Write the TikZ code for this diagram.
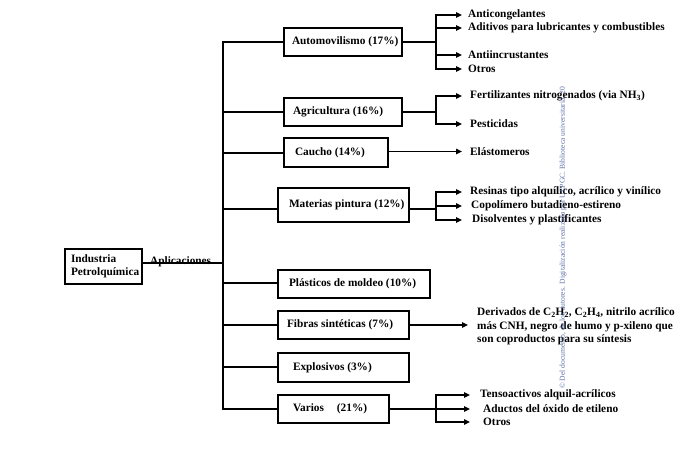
\documentclass[tikz,border=0pt]{standalone}
\usepackage{fontspec}
\setmainfont{Liberation Serif}
\usetikzlibrary{arrows.meta}
\definecolor{wmark}{RGB}{95,110,170}
\begin{document}
\begin{tikzpicture}[x=1pt,y=-1pt,
  every node/.style={font=\fontsize{11.3}{13.5}\selectfont\bfseries},
  box/.style={draw,line width=1.8pt,inner xsep=0pt,inner ysep=0pt,anchor=center},
  lbl/.style={anchor=west,inner ysep=0pt,inner xsep=0pt},
  ln/.style={line width=1.5pt},
  arr/.style={line width=1.5pt,-{Triangle[length=6pt,width=5.5pt]}}]
\useasboundingbox (0,0) rectangle (690,453);

% boxes
\node[box,minimum height=35pt] (ind) at (103.5,266.5) {\hbox to 77pt{\hskip6pt\vbox{\hbox{Industria}\hbox{Petrolquímica}}\hss}};
\node[box,minimum height=28pt] (auto) at (343,42) {\hbox to 118pt{\hskip8pt Automovilismo (17\%)\hss}};
\node[box,minimum height=28pt] (agri) at (343,112) {\hbox to 118pt{\hskip9pt Agricultura (16\%)\hss}};
\node[box,minimum height=29pt] (cau) at (336,152.5) {\hbox to 104pt{\hskip11pt Caucho (14\%)\hss}};
\node[box,minimum height=34pt] (mat) at (343.5,205) {\hbox to 131pt{\hskip11pt Materias pintura (12\%)\hss}};
\node[box,minimum height=28pt] (pla) at (354,284) {\hbox to 152pt{\hskip11pt Plásticos de moldeo (10\%)\hss}};
\node[box,minimum height=28pt] (fib) at (343.5,325) {\hbox to 131pt{\hskip9pt Fibras sintéticas (7\%)\hss}};
\node[box,minimum height=29pt] (exp) at (343.5,367.5) {\hbox to 131pt{\hskip15pt Explosivos (3\%)\hss}};
\node[box,minimum height=28pt] (var) at (333.5,409) {\hbox to 111pt{\hskip15pt Varios\hskip13pt(21\%)\hss}};

\node[anchor=base west,inner sep=0pt] (apl) at (150,264.5) {Aplicaciones};

% trunk coordinates
\coordinate (tI) at (223,263);
\coordinate (tA) at (223,42);
\coordinate (tG) at (223,112);
\coordinate (tC) at (223,153);
\coordinate (tM) at (223,209);
\coordinate (tP) at (223,283);
\coordinate (tF) at (223,325);
\coordinate (tE) at (223,367);
\coordinate (tV) at (223,409);

\draw[ln] (ind.east |- tI) -- (tI);
\draw[ln,line join=miter] (auto.west) -- (tA) -- (tV) -- (var.west);
\draw[ln] (tG) -- (tG -| agri.west);
\draw[ln] (tC) -- (tC -| cau.west);
\draw[ln] (tM) -- (tM -| mat.west);
\draw[ln] (tP) -- (tP -| pla.west);
\draw[ln] (tF) -- (fib.west);
\draw[ln] (tE) -- (tE -| exp.west);

% right-hand labels
\node[lbl] (a1) at (462,15) {\hskip6pt Anticongelantes};
\node[lbl] (a2) at (462,28) {\hskip6pt Aditivos para lubricantes y combustibles};
\node[lbl] (a3) at (462,55) {\hskip6pt Antiincrustantes};
\node[lbl] (a4) at (462,69) {\hskip6pt Otros};
\node[lbl] (g1) at (462,96) {\hskip8pt Fertilizantes nitrogenados (via NH\textsubscript{3})};
\node[lbl] (g2) at (462,124) {\hskip8pt Pesticidas};
\node[lbl] (c1) at (462,151.5) {\hskip8pt Elástomeros};
\node[lbl] (m1) at (462,192) {\hskip8pt Resinas tipo alquílico, acrílico y vinílico};
\node[lbl] (m2) at (462,206) {\hskip9pt Copolímero butadieno-estireno};
\node[lbl] (m3) at (462,220) {\hskip10pt Disolventes y plastificantes};
\node[lbl,align=left] (f1) at (468,326.5) {\hskip9pt Derivados de C\textsubscript{2}H\textsubscript{2}, C\textsubscript{2}H\textsubscript{4}, nitrilo acrílico\\\hskip9pt más CNH, negro de humo y p-xileno que\\\hskip9pt son coproductos para su síntesis};
\node[lbl] (v1) at (470,395) {\hskip10pt Tensoactivos alquil-acrílicos};
\node[lbl] (v2) at (470,409) {\hskip13pt Aductos del óxido de etileno};
\node[lbl] (v3) at (470,422) {\hskip13pt Otros};

% forks
\coordinate (kA) at (436,42);
\coordinate (kG) at (436,112);
\coordinate (kM) at (436,209);
\coordinate (kV) at (436,409);
\draw[ln] (auto.east |- kA) -- (kA);
\draw[ln] (agri.east |- kG) -- (kG);
\draw[ln] (mat.east |- kM) -- (kM);
\draw[ln] (var.east |- kV) -- (kV);
\foreach \t in {a1,a2,a3,a4} \draw[arr] (kA) |- (\t.west);
\foreach \t in {g1,g2} \draw[arr] (kG) |- (\t.west);
\foreach \t in {m1,m2,m3} \draw[arr] (kM) |- (\t.west);
\foreach \t in {v1,v2,v3} \draw[arr] (kV) |- (\t.west);
\draw[arr] (cau.east |- c1.west) -- (c1.west);
\draw[arr] (fib.east) -- (fib.east -| f1.west);

% watermark
\node[rotate=90,anchor=west,inner sep=0pt,text=wmark,font=\fontsize{7.6}{8}\selectfont] (wm) at (563,389) {© Del documento, de los autores. Digitalización realizada por ULPGC. Biblioteca universitaria, 20};
\end{tikzpicture}
\end{document}
